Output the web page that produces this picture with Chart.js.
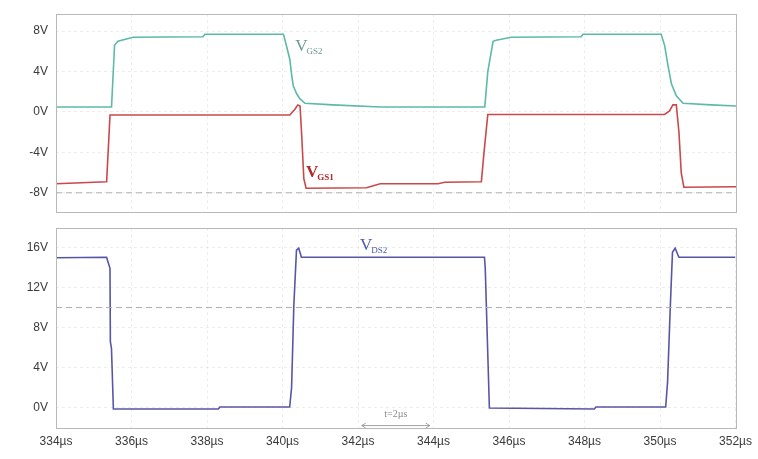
<!DOCTYPE html>
<html>
<head>
<meta charset="utf-8">
<script src="https://cdn.jsdelivr.net/npm/chart.js@4.4.0/dist/chart.umd.min.js"></script>
<style>
  html, body { margin: 0; padding: 0; background: #ffffff; overflow: hidden; }
  #top { position: absolute; left: 0; top: -1px; width: 758px; height: 228px; }
  #bot { position: absolute; left: 0; top: 213px; width: 758px; height: 246px; }
</style>
</head>
<body>
<div id="top"><canvas id="c1"></canvas></div>
<div id="bot"><canvas id="c2"></canvas></div>
<script>
// ---- Data (time in µs, voltage in V) ----
const tGS2 = [334, 335.47, 335.55, 335.64, 336.04, 337.89, 337.94, 340.02, 340.09, 340.19, 340.24, 340.28, 340.37, 340.46, 340.59, 341.33, 342.58,
              345.35, 345.43, 345.57, 345.65, 346.05, 347.9, 347.95, 350.02, 350.11, 350.2, 350.29, 350.42, 350.6, 351.34, 352];
const vGS2 = [0.5, 0.5, 6.6, 7.0, 7.4, 7.45, 7.7, 7.7, 6.7, 5.2, 3.6, 2.6, 1.8, 1.3, 0.86, 0.7, 0.5,
              0.5, 4.0, 7.0, 7.1, 7.4, 7.45, 7.7, 7.7, 6.6, 4.6, 2.8, 1.6, 0.86, 0.7, 0.6];

const tGS1 = [334, 335.34, 335.43, 340.19, 340.33, 340.4, 340.46, 340.5, 340.56, 340.62, 342.22, 342.58, 344.11, 344.29, 345.26, 345.33, 345.43,
              350.11, 350.24, 350.33, 350.42, 350.49, 350.55, 350.62, 352];
const vGS1 = [-7.1, -6.9, -0.3, -0.3, 0.3, 0.7, 0.6, -2.0, -6.6, -7.55, -7.5, -7.1, -7.1, -6.95, -6.9, -4.0, -0.25,
              -0.25, 0.1, 0.7, 0.7, -2.0, -6.0, -7.45, -7.4];

const tDS2 = [334, 335.34, 335.38, 335.43, 335.44, 335.47, 335.52, 338.3, 338.34, 340.19, 340.24, 340.3, 340.37, 340.43, 340.5, 340.55,
              345.35, 345.37, 345.48, 348.26, 348.3, 350.15, 350.2, 350.27, 350.33, 350.4, 350.5, 352];
const vDS2 = [14.95, 15.0, 14.5, 13.9, 6.6, 5.9, -0.1, -0.1, 0.1, 0.1, 2.0, 10.2, 15.7, 15.9, 15.0, 15.0,
              15.0, 13.9, 0.0, -0.1, 0.1, 0.1, 2.6, 9.9, 15.5, 15.9, 15.0, 15.0];

const xTicks = [334, 336, 338, 340, 342, 344, 346, 348, 350, 352];
const yTicksTop = [-8, -4, 0, 4, 8];
const yTicksBot = [0, 4, 8, 12, 16];
const refTop = [-8];   // dashed reference level, upper panel
const refBot = [10];   // dashed reference level, lower panel

const xRange = [334, 352];
const yRangeTop = [-9.88, 9.68];
const yRangeBot = [-1.99, 17.89];

// ---- helpers ----
const pts = (t, v) => t.map((x, i) => ({ x: x, y: v[i] }));
const refPts = (level) => [{ x: xRange[0], y: level }, { x: xRange[1], y: level }];

const FONT = "'Liberation Sans', Arial, sans-serif";
const gridCol = 'rgba(0,0,0,0.07)';

const framePlugin = {
  id: 'frame',
  afterDraw(chart) {
    const a = chart.chartArea, ctx = chart.ctx;
    ctx.save();
    ctx.strokeStyle = '#b8b8b8';
    ctx.lineWidth = 1;
    ctx.strokeRect(Math.round(a.left) + 0.5, Math.round(a.top) + 0.5, Math.round(a.right - a.left), Math.round(a.bottom - a.top));
    ctx.restore();
  }
};

const labelPlugin = {
  id: 'vlabels',
  afterDatasetsDraw(chart, args, opts) {
    const ctx = chart.ctx, xs = chart.scales.x, ys = chart.scales.y;
    (opts.items || []).forEach(it => {
      const px = xs.getPixelForValue(it.x), py = ys.getPixelForValue(it.y);
      ctx.save();
      ctx.fillStyle = it.color;
      ctx.textBaseline = 'alphabetic';
      ctx.textAlign = 'left';
      ctx.font = (it.bold ? 'bold ' : '') + "17px 'Liberation Serif', 'Times New Roman', serif";
      ctx.fillText('V', px, py);
      const w = ctx.measureText('V').width;
      ctx.font = (it.bold ? 'bold ' : '') + "9px 'Liberation Serif', 'Times New Roman', serif";
      ctx.fillText(it.sub, px + w - 1, py + 3);
      ctx.restore();
    });
    if (opts.span) {
      const s = opts.span;
      const x1 = xs.getPixelForValue(s.x1), x2 = xs.getPixelForValue(s.x2), y = ys.getPixelForValue(s.y);
      ctx.save();
      ctx.strokeStyle = '#8a8a8a';
      ctx.fillStyle = '#8a8a8a';
      ctx.lineWidth = 0.8;
      ctx.beginPath();
      ctx.moveTo(x1, y); ctx.lineTo(x2, y);
      ctx.moveTo(x1 + 4, y - 2.5); ctx.lineTo(x1, y); ctx.lineTo(x1 + 4, y + 2.5);
      ctx.moveTo(x2 - 4, y - 2.5); ctx.lineTo(x2, y); ctx.lineTo(x2 - 4, y + 2.5);
      ctx.stroke();
      ctx.font = "10px 'Liberation Serif', serif";
      ctx.textAlign = 'center';
      ctx.textBaseline = 'bottom';
      ctx.fillText(s.text, (x1 + x2) / 2, y - 6);
      ctx.restore();
    }
  }
};

function lineDS(data, color, width) {
  return { data: data, showLine: true, borderColor: color, backgroundColor: color, borderWidth: width,
           pointRadius: 0, tension: 0, fill: false };
}
function refDS(level) {
  return { data: refPts(level), showLine: true, borderColor: '#b0b0b0', borderWidth: 1, borderDash: [6, 4],
           pointRadius: 0, fill: false };
}

function makeOptions(yRange, yTicks, showX, padding, labels) {
  return {
    responsive: true, maintainAspectRatio: false, animation: false,
    layout: { padding: padding },
    plugins: { legend: { display: false }, tooltip: { enabled: false }, vlabels: labels },
    scales: {
      x: {
        type: 'linear', min: xRange[0], max: xRange[1],
        afterBuildTicks: s => { s.ticks = xTicks.map(v => ({ value: v })); },
        afterFit: s => { s.height = showX ? 31 : 0; },
        grid: { color: gridCol, drawTicks: false },
        border: { display: false, dash: [3, 3] },
        ticks: { display: showX, padding: 6, color: '#3a3a3a', font: { family: FONT, size: 12 },
                 callback: v => v + 'µs', maxRotation: 0, autoSkip: false }
      },
      y: {
        type: 'linear', min: yRange[0], max: yRange[1],
        afterBuildTicks: s => { s.ticks = yTicks.map(v => ({ value: v })); },
        afterFit: s => { s.width = 56; },
        grid: { color: gridCol, drawTicks: false },
        border: { display: false, dash: [3, 3] },
        ticks: { padding: 8, color: '#3a3a3a', font: { family: FONT, size: 12 }, callback: v => v + 'V' }
      }
    }
  };
}

new Chart(document.getElementById('c1'), {
  type: 'scatter',
  data: { datasets: [
    refDS(refTop[0]),
    lineDS(pts(tGS2, vGS2), '#5cbaa6', 1.6),
    lineDS(pts(tGS1, vGS1), '#c9494b', 1.6)
  ] },
  options: makeOptions(yRangeTop, yTicksTop, false, { top: 14, bottom: 10, left: 0, right: 22 }, {
    items: [
      { x: 340.33, y: 6.0, sub: 'GS2', color: '#6f9893', bold: false },
      { x: 340.62, y: -6.4, sub: 'GS1', color: '#b02a2c', bold: true }
    ]
  }),
  plugins: [framePlugin, labelPlugin]
});

new Chart(document.getElementById('c2'), {
  type: 'scatter',
  data: { datasets: [
    refDS(refBot[0]),
    lineDS(pts(tDS2, vDS2), '#5656a8', 1.6)
  ] },
  options: makeOptions(yRangeBot, yTicksBot, true, { top: 6, bottom: 0, left: 0, right: 22 }, {
    items: [
      { x: 342.05, y: 15.7, sub: 'DS2', color: '#4b5aaa', bold: false }
    ],
    span: { x1: 342.1, x2: 343.9, y: -1.75, text: 't=2µs' }
  }),
  plugins: [framePlugin, labelPlugin]
});
</script>
</body>
</html>
